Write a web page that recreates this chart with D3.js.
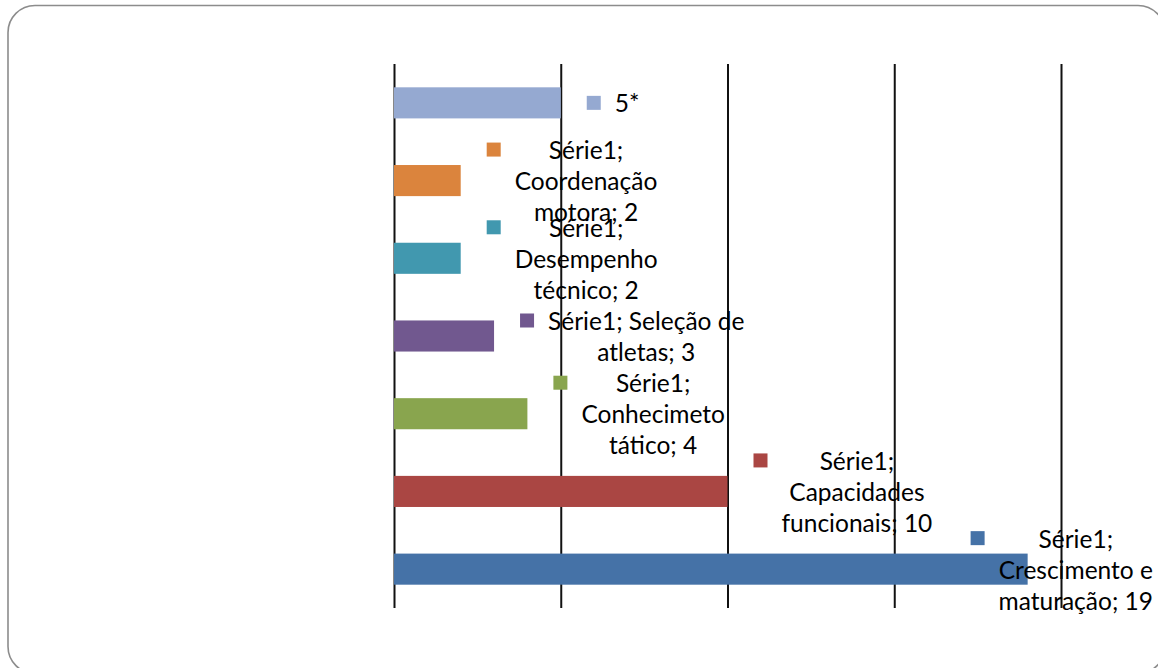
<!DOCTYPE html>
<html>
<head>
<meta charset="utf-8">
<script src="https://cdn.jsdelivr.net/npm/d3@7"></script>
<style>
  html, body { margin: 0; padding: 0; background: #fff; }
  svg { display: block; }
  text { font-family: Lato, "Open Sans", sans-serif; font-size: 24.5px; fill: #000; }
</style>
</head>
<body>
<svg id="chart" width="1158" height="668"></svg>
<script>
// ---- data ----
const categories = ["5*", "Coordenação motora", "Desempenho técnico", "Seleção de atletas",
                    "Conhecimento tático", "Capacidades funcionais", "Crescimento e maturação"];
const values = [5, 2, 2, 3, 4, 10, 19];
const colors = ["#95a9d1", "#db843d", "#4198af", "#71588f", "#89a54e", "#aa4643", "#4572a7"];
const labelLines = [
  ["5*"],
  ["Série1;", "Coordenação", "motora; 2"],
  ["Série1;", "Desempenho", "técnico; 2"],
  ["Série1; Seleção de", "atletas; 3"],
  ["Série1;", "Conhecimeto", "tático; 4"],
  ["Série1;", "Capacidades", "funcionais; 10"],
  ["Série1;", "Crescimento e", "maturação; 19"]
];
const xTicks = [0, 5, 10, 15, 20];

// ---- layout ----
const svg = d3.select("#chart");
const plot = { left: 394, right: 1061, top: 64, bottom: 608 };

// border
svg.append("rect")
  .attr("x", 8).attr("y", 5.5).attr("width", 1157).attr("height", 668)
  .attr("rx", 27).attr("ry", 27)
  .attr("fill", "#fff").attr("stroke", "#8c8c8c").attr("stroke-width", 1.6);

const x = d3.scaleLinear().domain([0, 20]).range([plot.left, plot.right]);
const y = d3.scaleBand().domain(categories).range([plot.top, plot.bottom]).paddingInner(0.6).paddingOuter(0.3);

// gridlines via axis
const gridAxis = d3.axisBottom(x).tickValues(xTicks).tickSize(-(plot.bottom - plot.top)).tickFormat("");
const g = svg.append("g").attr("transform", `translate(0,${plot.bottom})`).call(gridAxis);
g.select(".domain").remove();
g.selectAll(".tick line").attr("stroke", "#111").attr("stroke-width", 2);

// bars
svg.append("g").selectAll("rect").data(categories).join("rect")
  .attr("x", x(0))
  .attr("y", d => y(d))
  .attr("width", (d, i) => x(values[i]) - x(0))
  .attr("height", y.bandwidth())
  .attr("fill", (d, i) => colors[i]);

// labels
const lineH = 31, key = 14, gap = 14;
categories.forEach((c, i) => {
  const lines = labelLines[i];
  const lg = svg.append("g");
  const texts = lines.map(l => lg.append("text").attr("text-anchor", "middle").text(l));
  const maxW = d3.max(texts, t => t.node().getComputedTextLength());
  const boxW = key + gap + maxW;
  let left = x(values[i]) + 26;
  if (left + boxW > 1153) left = 1153 - boxW;
  const cy = y(c) + y.bandwidth() / 2;
  const top = cy - lines.length * lineH / 2;
  const firstCenter = top + lineH / 2;
  const cx = left + key + gap + maxW / 2;
  texts.forEach((t, j) => {
    t.attr("x", cx).attr("y", firstCenter + j * lineH + 1).attr("dy", "0.35em");
  });
  lg.insert("rect", "text")
    .attr("x", left).attr("y", firstCenter - key / 2)
    .attr("width", key).attr("height", key)
    .attr("fill", colors[i]);
});
</script>
</body>
</html>
